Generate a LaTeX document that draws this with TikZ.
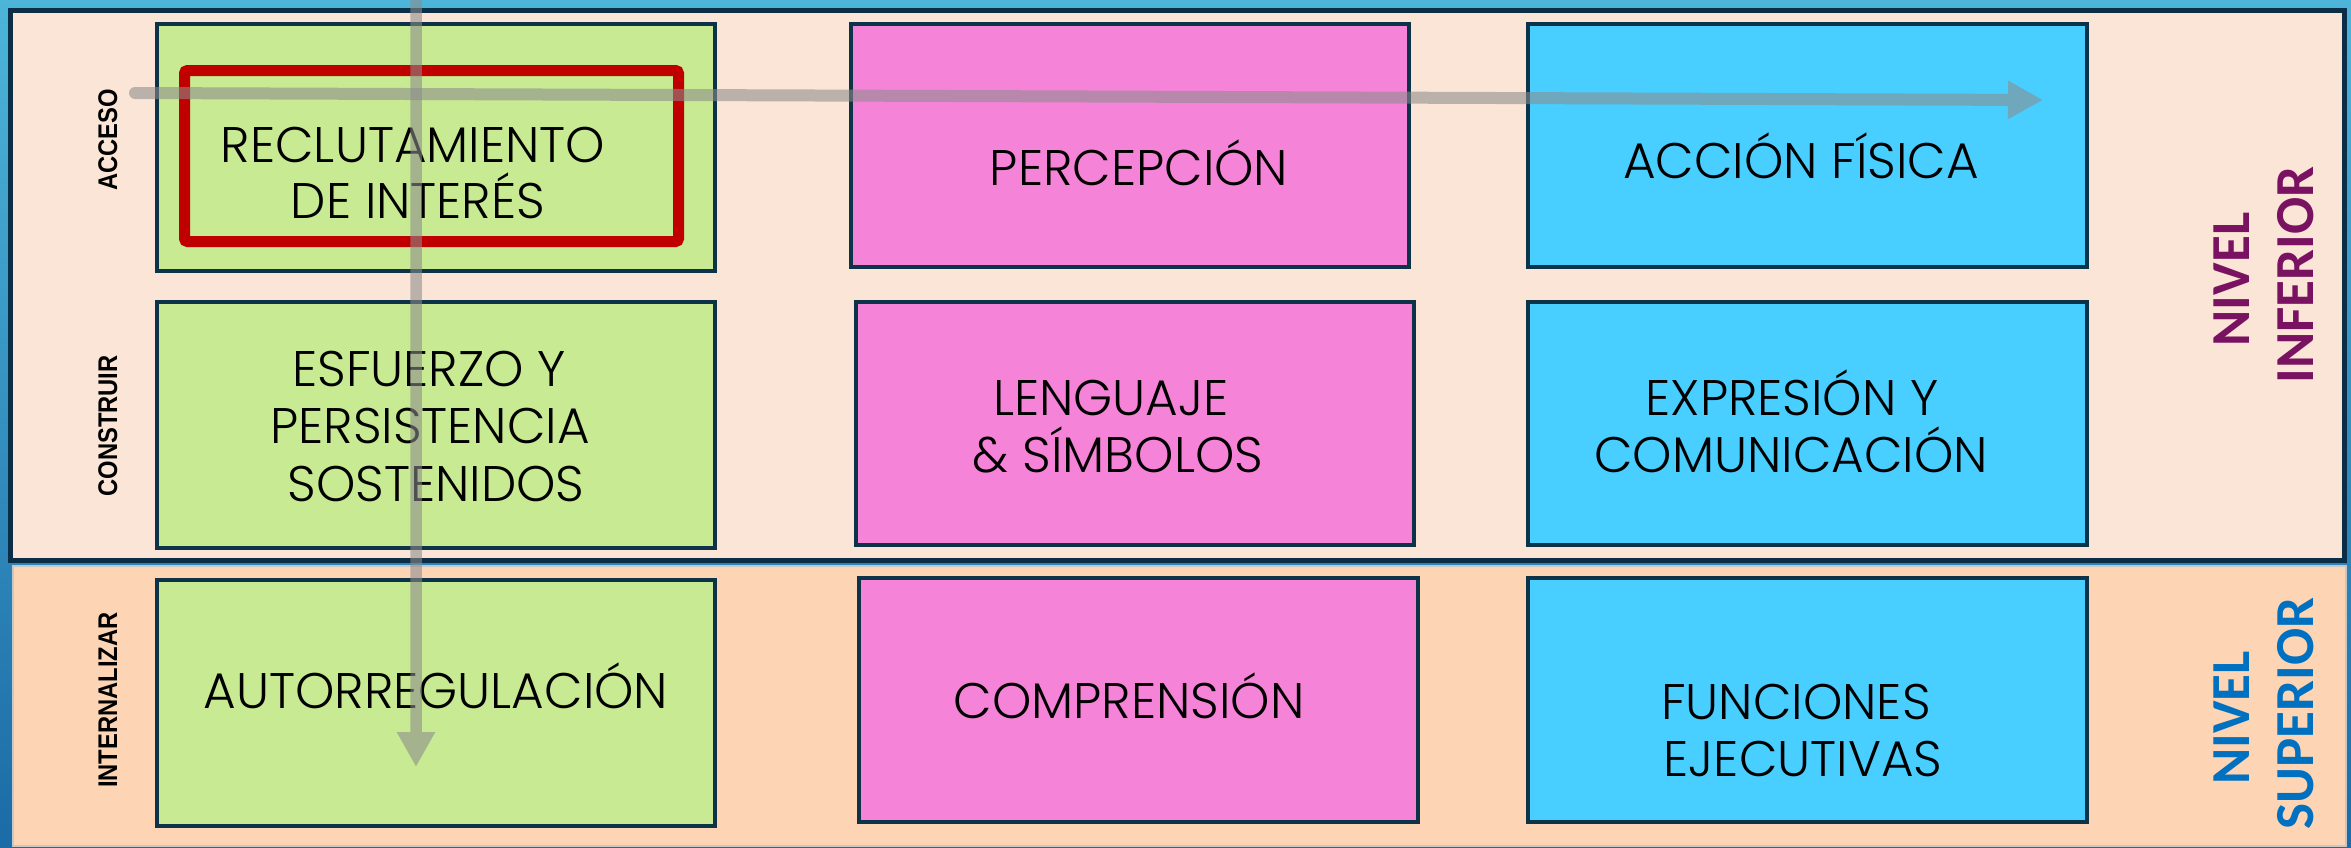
\documentclass[tikz,border=0pt]{standalone}
\usepackage{fontspec}
\setmainfont{Poppins}[UprightFont=* Light]
\newfontfamily\rowfont{Liberation Sans Bold}[FakeStretch=0.88]
\newfontfamily\lvlfont{Carlito}
\usetikzlibrary{arrows.meta}

\definecolor{bgtop}{HTML}{4DB5D9}
\definecolor{bgbot}{HTML}{1B6BA6}
\definecolor{toppanel}{HTML}{FBE5D6}
\definecolor{botpanel}{HTML}{FDD5B5}
\definecolor{panelline}{HTML}{0B2D45}
\definecolor{cellline}{HTML}{0D3349}
\definecolor{cgreen}{HTML}{C7EA92}
\definecolor{cpink}{HTML}{F584D8}
\definecolor{cblue}{HTML}{48CEFF}
\definecolor{hired}{HTML}{C00000}
\definecolor{arrowgray}{HTML}{8C8C8C}
\definecolor{lvlpurple}{HTML}{7A1262}
\definecolor{lvlblue}{HTML}{0070C0}

\tikzset{
  cell/.style={draw=cellline, line width=3.5pt, inner sep=0pt, outer sep=0pt, rectangle},
  greencell/.style={cell, fill=cgreen},
  pinkcell/.style={cell, fill=cpink},
  bluecell/.style={cell, fill=cblue},
  celltext/.style={anchor=base, inner sep=0pt, text=black, font=\fontsize{50pt}{60pt}\selectfont},
  rowlabel/.style={rotate=90, anchor=base, inner sep=0pt, text=black, font=\rowfont\fontsize{27pt}{30pt}\selectfont},
  lvllabel/.style={rotate=90, anchor=base, inner sep=0pt, font=\lvlfont\bfseries\fontsize{55pt}{60pt}\selectfont},
  highlight/.style={draw=hired, line width=11pt, rounded corners=3pt},
  flowarrow/.style={draw=arrowgray, fill=arrowgray, line cap=round, -{Triangle[length=35pt,width=36pt]}}
}

\begin{document}
\begin{tikzpicture}[x=1pt,y=-1pt]
\useasboundingbox (0,0) rectangle (2351,847);
% background
\fill[top color=bgtop, bottom color=bgbot] (0,0) rectangle (2351,847);
% panels
\filldraw[fill=botpanel, draw=black!22, line width=1.5pt] (13,566) rectangle (2346,846);
\filldraw[fill=toppanel, draw=panelline, line width=5pt] (10,10) rectangle (2344,560);

% cells
\node[greencell, minimum width=558pt, minimum height=247pt] (g1) at (436,147.5) {};
\node[greencell, minimum width=558pt, minimum height=246pt] (g2) at (436,425) {};
\node[greencell, minimum width=558pt, minimum height=246pt] (g3) at (436,703) {};
\node[pinkcell, minimum width=558pt, minimum height=243pt] (p1) at (1130,145.5) {};
\node[pinkcell, minimum width=558pt, minimum height=243pt] (p2) at (1135,423.5) {};
\node[pinkcell, minimum width=559pt, minimum height=244pt] (p3) at (1138.5,700) {};
\node[bluecell, minimum width=559pt, minimum height=243pt] (b1) at (1807.5,145.5) {};
\node[bluecell, minimum width=559pt, minimum height=243pt] (b2) at (1807.5,423.5) {};
\node[bluecell, minimum width=559pt, minimum height=244pt] (b3) at (1807.5,700) {};

% highlight
\draw[highlight] (184.5,70.5) rectangle (678.5,241.5);

% cell texts
\node[celltext] (t1a) at (413,162) {RECLUTAMIENTO};
\node[celltext] (t1b) at (418,218) {DE INTERÉS};
\node[celltext] (t2) at (1139,185) {PERCEPCIÓN};
\node[celltext] (t3) at (1801,178) {ACCIÓN FÍSICA};
\node[celltext] (t4a) at (429,386) {ESFUERZO Y};
\node[celltext] (t4b) at (430,443) {PERSISTENCIA};
\node[celltext] (t4c) at (436,501) {SOSTENIDOS};
\node[celltext] (t5a) at (1111,415) {LENGUAJE};
\node[celltext] (t5b) at (1118,472) {\& SÍMBOLOS};
\node[celltext] (t6a) at (1792,415) {EXPRESIÓN Y};
\node[celltext] (t6b) at (1791,472) {COMUNICACIÓN};
\node[celltext] (t7) at (436,708) {AUTORREGULACIÓN};
\node[celltext] (t8) at (1129,718) {COMPRENSIÓN};
\node[celltext] (t9a) at (1796,719) {FUNCIONES};
\node[celltext] (t9b) at (1803,776) {EJECUTIVAS};

% row labels
\node[rowlabel] (lacc) at (117,140) {ACCESO};
\node[rowlabel] (lcon) at (117,426) {CONSTRUIR};
\node[rowlabel] (lint) at (117,700) {INTERNALIZAR};

% level labels
\node[lvllabel, text=lvlpurple] (niv1) at (2249,279.5) {NIVEL};
\node[lvllabel, text=lvlpurple] (inf) at (2313,275) {INFERIOR};
\node[lvllabel, text=lvlblue] (niv2) at (2249,718) {NIVEL};
\node[lvllabel, text=lvlblue] (sup) at (2313,713.5) {SUPERIOR};

% arrows
\coordinate (hs) at (135,93);
\coordinate (he) at (2043,100);
\coordinate (vs) at (416,-10);
\coordinate (ve) at (416,767);
\begin{scope}[transparency group, opacity=0.575]
\draw[flowarrow, line width=12pt] (hs) -- (he);
\end{scope}
\begin{scope}[transparency group, opacity=0.575]
\draw[flowarrow, line width=11.5pt] (vs) -- (ve);
\end{scope}
\end{tikzpicture}
\end{document}
